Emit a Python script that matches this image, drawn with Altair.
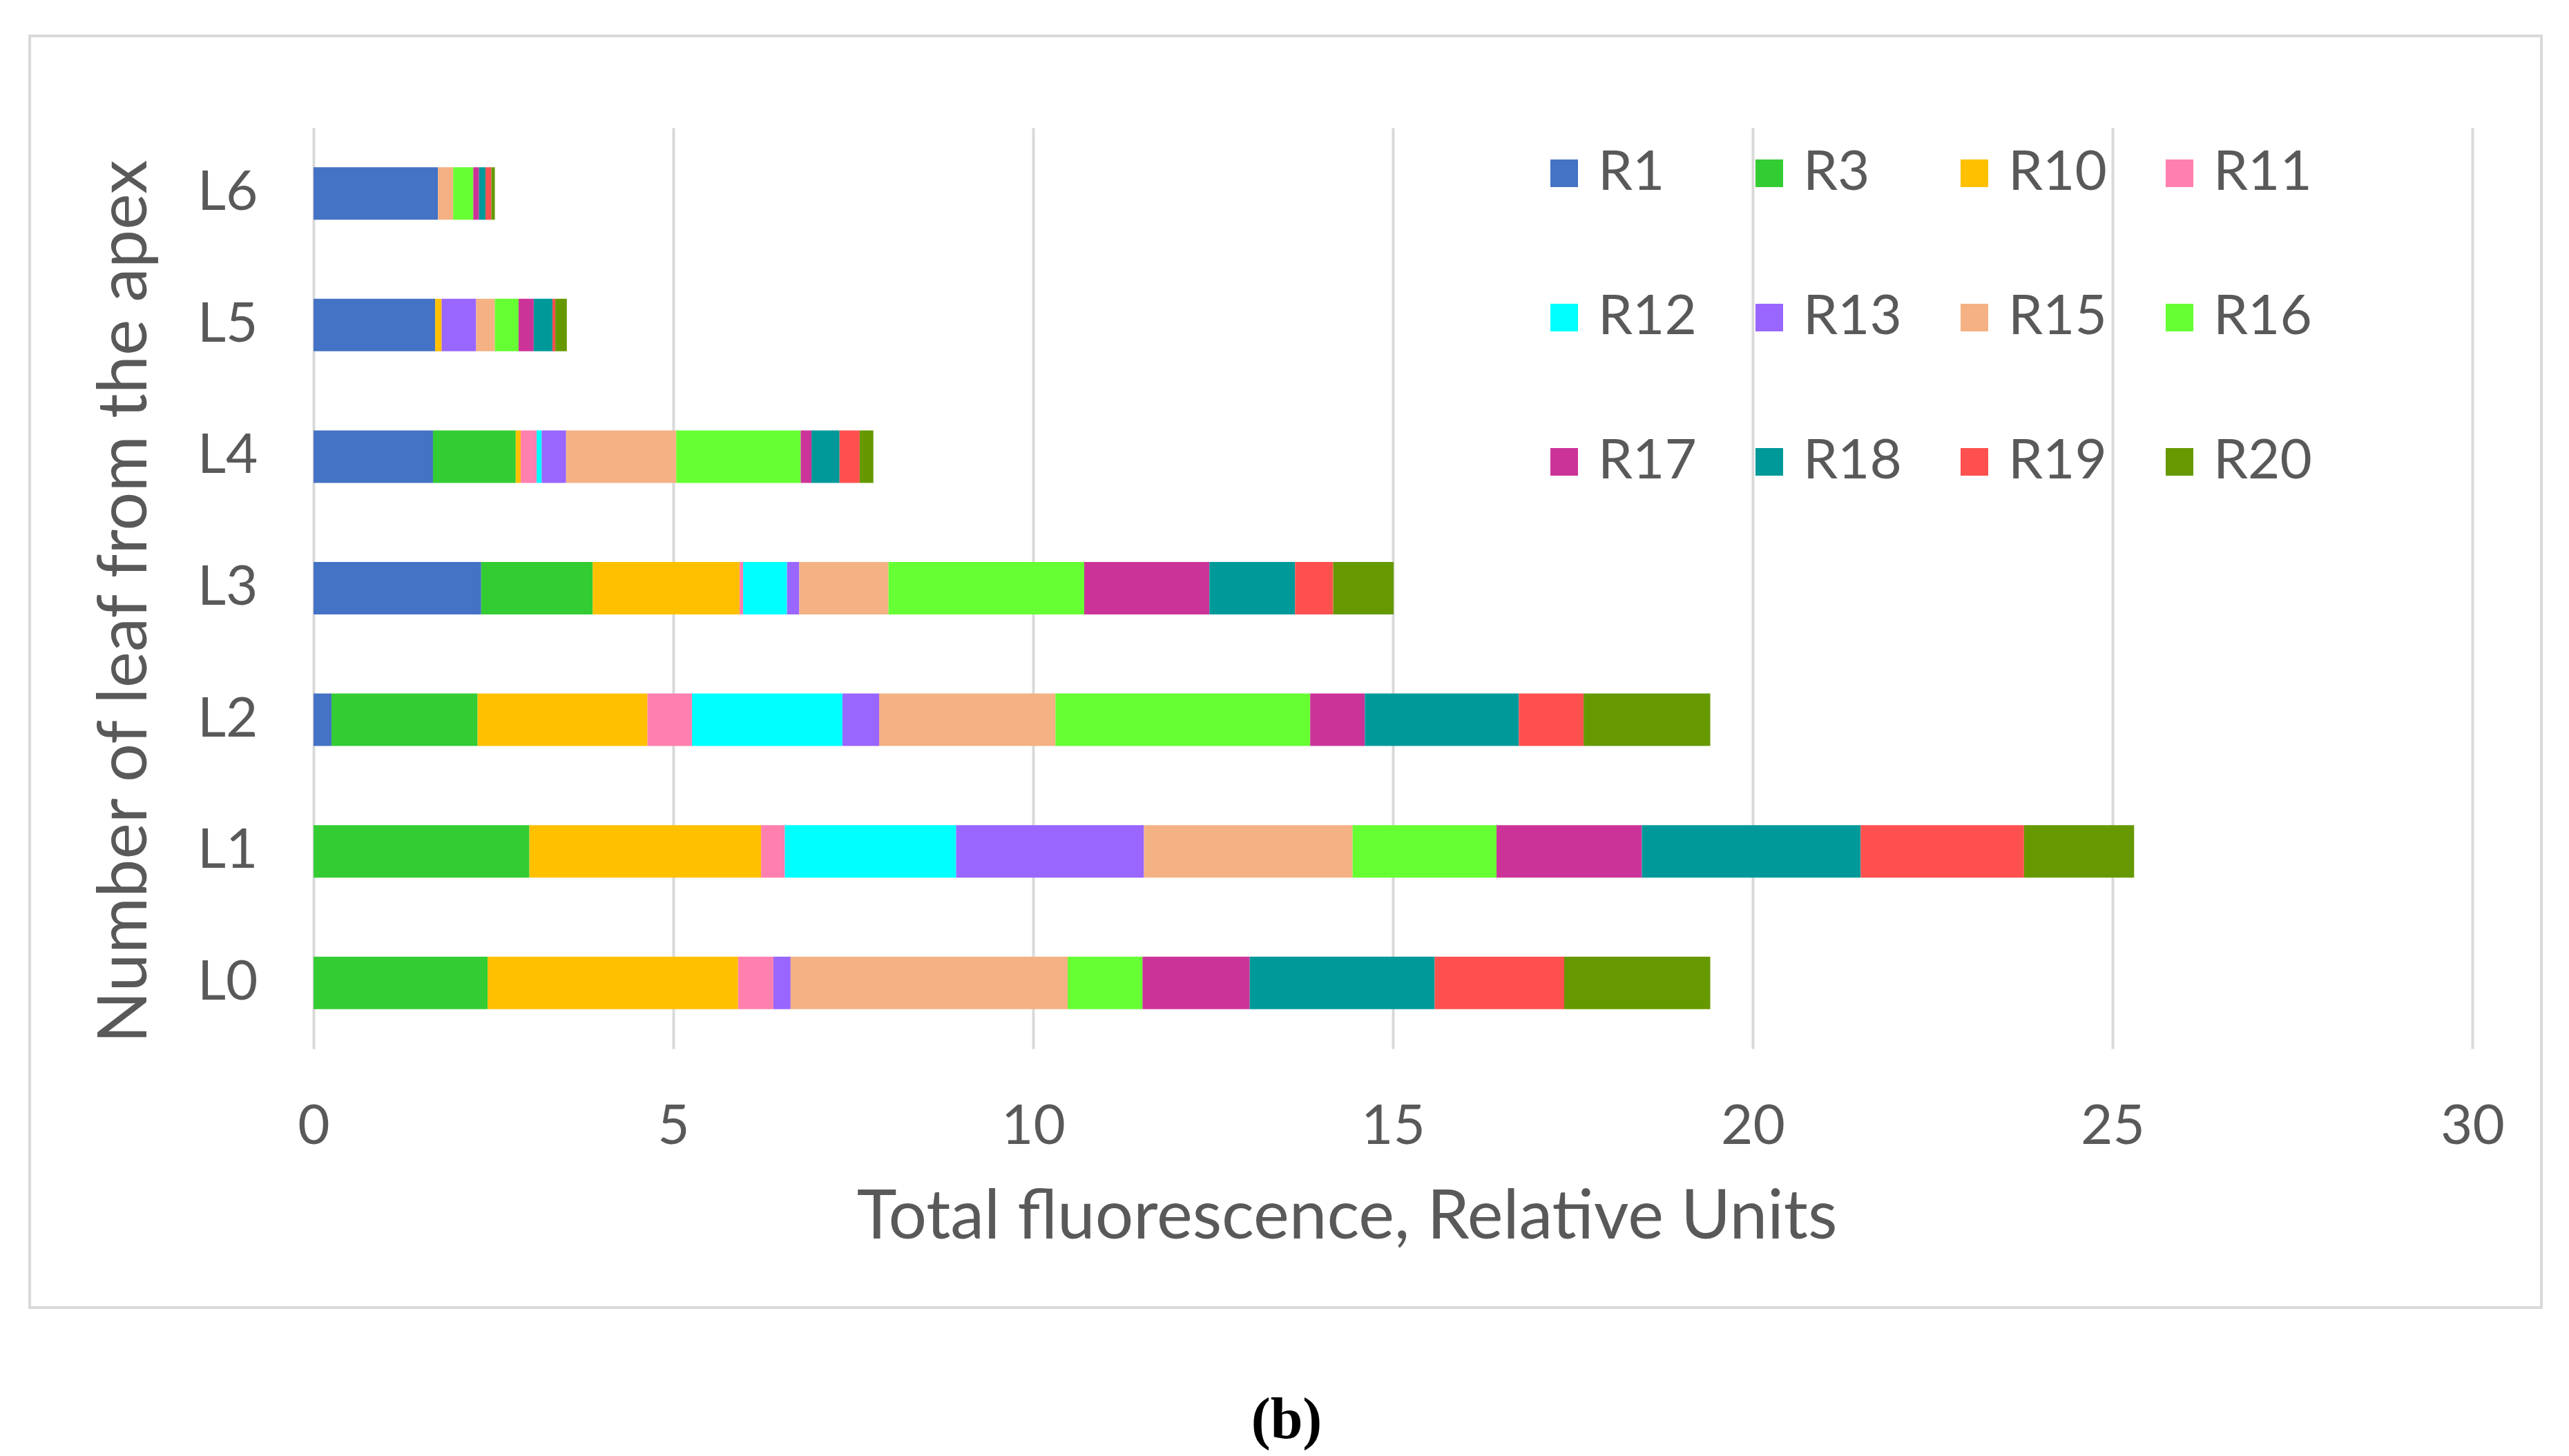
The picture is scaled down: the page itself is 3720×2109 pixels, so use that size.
import altair as alt
import pandas as pd

leaves = ["L6", "L5", "L4", "L3", "L2", "L1", "L0"]
series = ["R1", "R3", "R10", "R11", "R12", "R13", "R15", "R16", "R17", "R18", "R19", "R20"]
colors = ["#4472C4", "#33CC33", "#FFC000", "#FF7FAE", "#00FFFF", "#9966FF",
          "#F4B183", "#66FF33", "#CC3399", "#009999", "#FF5050", "#669900"]

# values per series, in order of leaves L6..L0
R1 = [1.73, 1.69, 1.66, 2.33, 0.25, 0.00, 0.00]
R3 = [0.00, 0.00, 1.15, 1.55, 2.03, 3.00, 2.42]
R10 = [0.00, 0.09, 0.07, 2.04, 2.36, 3.22, 3.48]
R11 = [0.00, 0.00, 0.22, 0.05, 0.62, 0.33, 0.49]
R12 = [0.00, 0.00, 0.07, 0.61, 2.09, 2.38, 0.00]
R13 = [0.00, 0.48, 0.34, 0.17, 0.51, 2.61, 0.24]
R15 = [0.21, 0.26, 1.53, 1.24, 2.45, 2.90, 3.85]
R16 = [0.28, 0.33, 1.73, 2.72, 3.54, 2.00, 1.04]
R17 = [0.08, 0.21, 0.15, 1.74, 0.76, 2.02, 1.49]
R18 = [0.09, 0.26, 0.39, 1.19, 2.14, 3.04, 2.57]
R19 = [0.08, 0.04, 0.28, 0.53, 0.90, 2.27, 1.80]
R20 = [0.05, 0.16, 0.19, 0.84, 1.76, 1.53, 2.03]

values = [R1, R3, R10, R11, R12, R13, R15, R16, R17, R18, R19, R20]
x_ticks = [0, 5, 10, 15, 20, 25, 30]
x_title = "Total fluorescence, Relative Units"
y_title = "Number of leaf from the apex"
caption = ["(b)"]

rows = []
for si, (s, vals) in enumerate(zip(series, values)):
    for leaf, v in zip(leaves, vals):
        rows.append({"leaf": leaf, "series": s, "value": v, "order": si})
df = pd.DataFrame(rows)

FONT = "Lato"
GRAY = "#595959"

frame = alt.Chart(pd.DataFrame({"a": [0]})).mark_rect(
    fill=None, stroke="#d9d9d9", strokeWidth=4
).encode(
    x=alt.value(-411), x2=alt.value(3226), y=alt.value(-133), y2=alt.value(1709)
)

bars = alt.Chart(df).mark_bar(size=76).encode(
    x=alt.X("sum(value):Q",
            stack="zero",
            scale=alt.Scale(domain=[0, 30], nice=False, zero=True),
            axis=alt.Axis(values=x_ticks, title=x_title, domain=False, ticks=False,
                          grid=True, gridColor="#d9d9d9", gridWidth=4,
                          labelFont=FONT, labelFontSize=80, labelColor=GRAY,
                          labelPadding=74, labelFlush=False,
                          titleFont=FONT, titleFontSize=98, titleColor=GRAY,
                          titleFontWeight="normal",
                          titleX=1496, titleY=245, titleBaseline="middle",
                          titleAlign="center")),
    y=alt.Y("leaf:N", sort=leaves,
            scale=alt.Scale(paddingInner=0.6, paddingOuter=0.3),
            axis=alt.Axis(title=y_title, domain=False, ticks=False, grid=False,
                          labelFont=FONT, labelFontSize=80, labelColor=GRAY,
                          labelPadding=81,
                          titleFont=FONT, titleFontSize=99, titleColor=GRAY,
                          titleFontWeight="normal", titleAngle=270,
                          titleX=-273, titleY=686, titleBaseline="middle",
                          titleAlign="center")),
    color=alt.Color("series:N", sort=series,
                    scale=alt.Scale(domain=series, range=colors),
                    legend=alt.Legend(title=None, orient="none", legendX=1771, legendY=26,
                                      columns=4, direction="horizontal",
                                      symbolType="square", symbolSize=1600,
                                      symbolStrokeWidth=0, labelOffset=9,
                                      labelFont=FONT, labelFontSize=80, labelColor=GRAY,
                                      columnPadding=65, rowPadding=129, padding=0)),
    order=alt.Order("order:Q", sort="ascending"),
)

cap = alt.Chart(pd.DataFrame({"t": caption})).mark_text(
    font="Liberation Serif", fontSize=84, fontWeight="bold", color="#000000",
    align="center", baseline="middle"
).encode(x=alt.value(1409), y=alt.value(1873), text="t:N")

chart = alt.layer(frame, bars, cap).properties(
    width=3126, height=1334,
    autosize=alt.AutoSizeParams(type="none"),
    padding={"left": 446, "top": 177, "right": 132, "bottom": 582},
    background="white",
).configure_view(stroke=None)

chart.save("out.html", embed_options={"renderer": "svg", "actions": False})
